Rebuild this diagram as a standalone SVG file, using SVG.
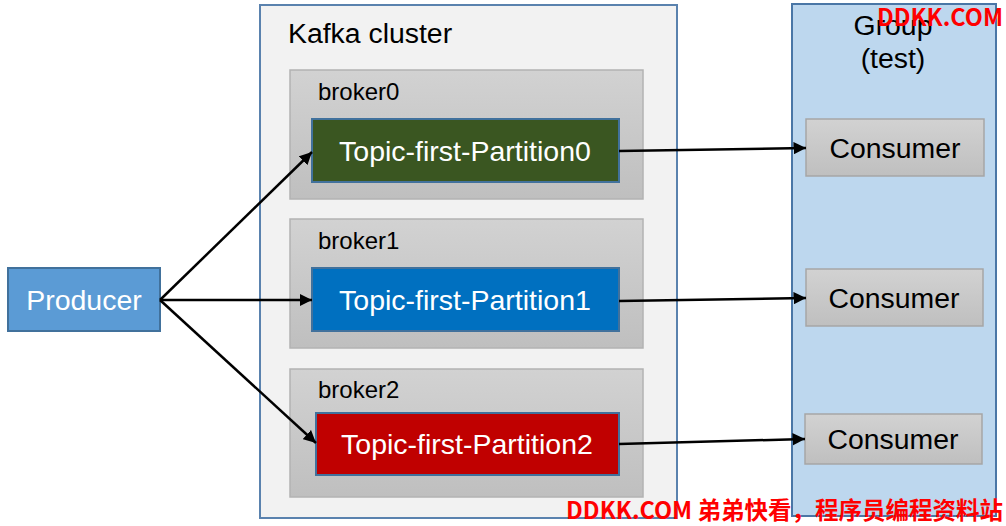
<svg xmlns="http://www.w3.org/2000/svg" width="1006" height="526" viewBox="0 0 1006 526">
<defs>
<linearGradient id="gray" x1="0" y1="0" x2="0" y2="1">
<stop offset="0" stop-color="#d2d2d2"/>
<stop offset="1" stop-color="#bfbfbf"/>
</linearGradient>
<marker id="arr" viewBox="0 0 10 10" refX="10" refY="5" markerWidth="5" markerHeight="5" orient="auto" markerUnits="strokeWidth">
<path d="M0,0 L10,5 L0,10 z" fill="#000"/>
</marker>
<style>
text{font-family:"Liberation Sans",Arial,sans-serif}
.broker{fill:url(#gray);stroke:#b3b3b3;stroke-width:1.5}
.part{stroke:#41719c;stroke-width:2}
.cons{fill:url(#gray);stroke:#a6a6a6;stroke-width:1.5}
.wt{font-size:28.5px;fill:#fff;text-anchor:middle}
.bt{font-size:24px;fill:#000}
.ct{font-size:28.4px;fill:#000;text-anchor:middle}
.conn{stroke:#000;stroke-width:2.5;fill:none;marker-end:url(#arr)}
.wm{font-family:"Noto Sans CJK SC","Liberation Sans",sans-serif;font-weight:bold;fill:#ff0000;font-size:23.5px;text-anchor:end}
</style>
</defs>
<rect width="1006" height="526" fill="#fff"/>
<g id="cluster">
<rect x="260" y="5" width="417" height="513" fill="#f2f2f2" stroke="#5a82ae" stroke-width="2"/>
<text x="288" y="43" font-size="28.4" fill="#000">Kafka cluster</text>
</g>
<g id="group">
<rect x="792" y="4" width="204" height="512" fill="#bdd7ee" stroke="#4a76a6" stroke-width="2"/>
<text x="893" y="35" class="ct">Group</text>
<text x="893" y="68" class="ct">(test)</text>
</g>
<g id="broker0">
<rect class="broker" x="290" y="70" width="353" height="129"/>
<text x="318" y="100" class="bt">broker0</text>
</g>
<g id="broker1">
<rect class="broker" x="290" y="219" width="353" height="129"/>
<text x="318" y="249" class="bt">broker1</text>
</g>
<g id="broker2">
<rect class="broker" x="290" y="369" width="353" height="128"/>
<text x="318" y="398" class="bt">broker2</text>
</g>
<g id="partition0">
<rect class="part" x="312" y="119" width="307" height="63" fill="#3a5621"/>
<text x="465" y="161" class="wt">Topic-first-Partition0</text>
</g>
<g id="partition1">
<rect class="part" x="312" y="268" width="307" height="63" fill="#0070c0"/>
<text x="465" y="310" class="wt">Topic-first-Partition1</text>
</g>
<g id="partition2">
<rect class="part" x="316" y="413" width="303" height="62" fill="#c00000"/>
<text x="467" y="454" class="wt">Topic-first-Partition2</text>
</g>
<g id="producer">
<rect x="8" y="268" width="152" height="63" fill="#5b9bd5" stroke="#41719c" stroke-width="2"/>
<text x="84" y="310" class="wt">Producer</text>
</g>
<g id="consumer0">
<rect class="cons" x="806" y="119" width="178" height="57"/>
<text x="895" y="158" class="ct">Consumer</text>
</g>
<g id="consumer1">
<rect class="cons" x="806" y="269" width="177" height="57"/>
<text x="894" y="308" class="ct">Consumer</text>
</g>
<g id="consumer2">
<rect class="cons" x="805" y="414" width="177" height="50"/>
<text x="893" y="449" class="ct">Consumer</text>
</g>
<g id="connectors">
<line class="conn" x1="160" y1="300" x2="312" y2="152"/>
<line class="conn" x1="160" y1="300" x2="312" y2="300"/>
<line class="conn" x1="160" y1="300" x2="316" y2="443"/>
<line class="conn" x1="619" y1="151" x2="806" y2="148"/>
<line class="conn" x1="619" y1="301" x2="806" y2="298"/>
<line class="conn" x1="619" y1="444" x2="805" y2="439"/>
</g>
<g id="watermark">
<text x="1003" y="26" class="wm">DDKK.COM</text>
<text x="1003" y="519" class="wm">DDKK.COM 弟弟快看，程序员编程资料站</text>
</g>
</svg>
